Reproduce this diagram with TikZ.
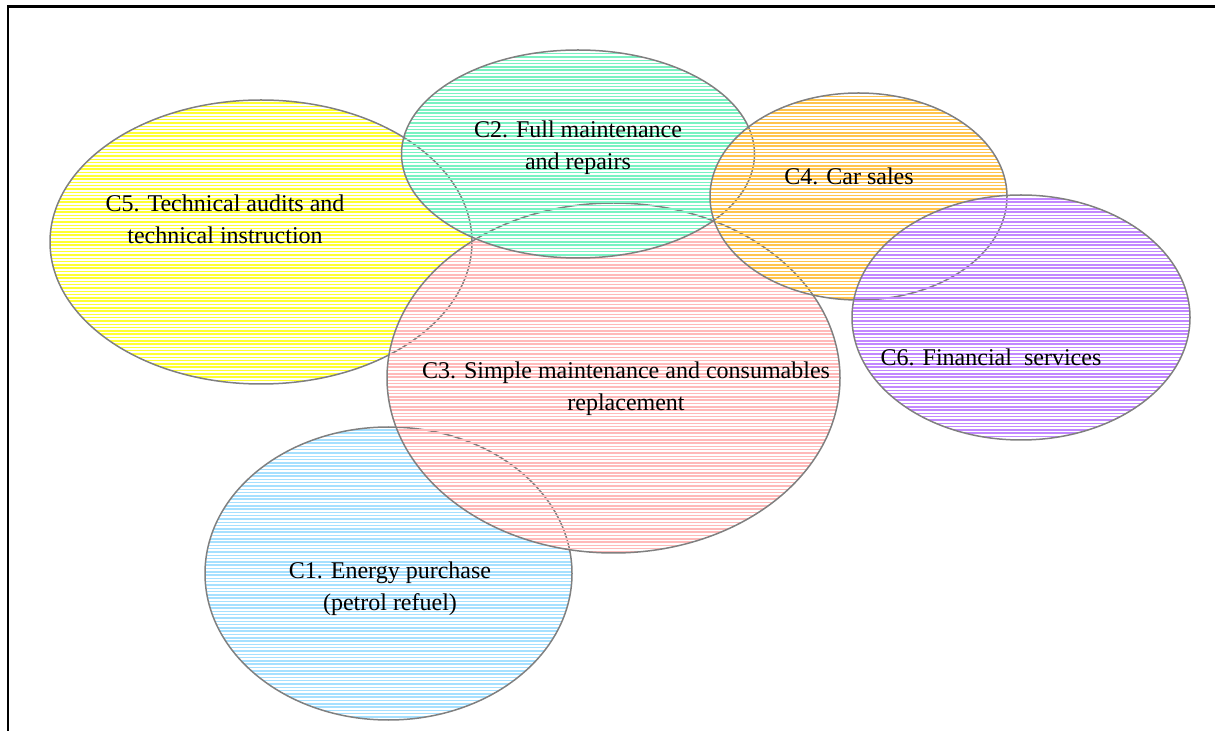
\documentclass[tikz,border=0pt]{standalone}
\usepackage{fontspec}
\setmainfont{Liberation Serif}
\usepackage{tikz}
\usetikzlibrary{shapes.geometric,patterns.meta}
\definecolor{rim}{HTML}{808080}
\definecolor{lemon}{HTML}{FFFF33}
\definecolor{mint}{HTML}{7AF2C2}
\definecolor{blush}{HTML}{FFBABA}
\definecolor{amber}{HTML}{FFC44D}
\definecolor{lilac}{HTML}{C288FF}
\definecolor{ice}{HTML}{A6E0FF}
\tikzdeclarepattern{
  name=hstripes,
  type=uncolored,
  bottom left={(-1pt,-0.1pt)},
  top right={(101pt,1.75pt)},
  tile size={(100pt,1.65pt)},
  code={\draw[line width=0.75pt] (-1pt,0.4pt) -- (101pt,0.4pt);}
}
\tikzset{
  set/.style={ellipse,draw=rim,line width=0.75pt,inner sep=0pt,
    pattern=hstripes,pattern color=#1},
  lbl/.style={font=\fontsize{12}{16}\selectfont,align=center,inner sep=0pt},
}

\begin{document}
\begin{tikzpicture}[x=0.5pt,y=-0.5pt]
  \useasboundingbox (0,0) rectangle (1215,731);
  % frame (top and left edges only)
  \draw[line width=1.1pt] (8,731) -- (8,6.5) -- (1215,6.5);
  % sets, lowest first
  \node[set=ice,minimum width=183.5pt,minimum height=146.5pt] (c1) at (388.5,573.5) {};
  \node[set=lemon,minimum width=211pt,minimum height=142pt] (c5) at (261,242) {};
  \node[set=blush,minimum width=226.5pt,minimum height=175pt] (c3) at (613.5,378) {};
  \node[set=mint,minimum width=176.5pt,minimum height=104pt] (c2) at (578,154) {};
  \node[set=amber,minimum width=148.5pt,minimum height=103.5pt] (c4) at (858.5,196.5) {};
  \node[set=lilac,minimum width=169pt,minimum height=122.5pt] (c6) at (1021,317.5) {};
  % labels
  \node[lbl] (t1) at (390,589) {C1. Energy purchase\\(petrol refuel)};
  \node[lbl] (t2) at (578,148) {C2. Full maintenance\\and repairs};
  \node[lbl] (t3) at (626,388.5) {C3. Simple maintenance and consumables\\replacement};
  \node[lbl] (t4) at (849,176) {C4. Car sales};
  \node[lbl] (t5) at (225,219.5) {C5. Technical audits and\\technical instruction};
  \node[lbl] (t6) at (991,357) {C6. Financial\ \ services};
\end{tikzpicture}
\end{document}
